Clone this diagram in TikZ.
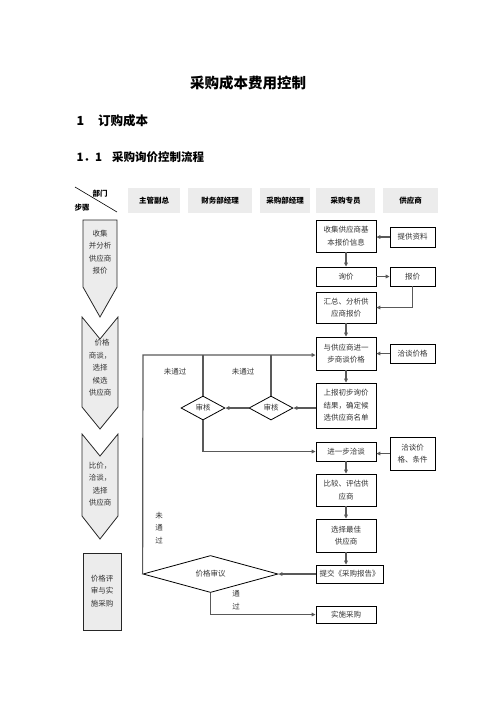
\documentclass[tikz,border=0pt]{standalone}
\usepackage{fontspec}
\usepackage{tikz}
\usetikzlibrary{shapes.geometric, arrows.meta}
\newfontfamily\cjk{Noto Sans CJK SC}

\begin{document}
\begin{tikzpicture}[x=1pt, y=-1pt, >={Triangle[length=4pt, width=3.6pt]},
  every node/.style={font=\cjk\fontsize{7.5}{12.5}\selectfont, text=black!80},
  flowbox/.style={draw, line width=0.8pt, minimum width=60pt, align=center, inner sep=0pt},
  hdr/.style={fill=gray!15, minimum height=25pt, inner sep=0pt, font=\cjk\bfseries\fontsize{7.5}{9}\selectfont, text=black},
  decision/.style={draw, line width=0.8pt, diamond, inner sep=0pt},
  steparrow/.style={draw=black!85, line width=0.8pt, fill=gray!15},
  link/.style={draw=black!65, line width=1.2pt}]
  \useasboundingbox (0,0) rectangle (496,702);
  % headings
  \node[font=\cjk\bfseries\fontsize{14.5}{16}\selectfont, text=black] (title) at (248,83) {采购成本费用控制};
  \node[font=\cjk\bfseries\fontsize{12.5}{14}\selectfont, text=black, anchor=west] (sec) at (73,121) {1\hspace{14pt}订购成本};
  \node[font=\cjk\bfseries\fontsize{11.5}{13}\selectfont, text=black, anchor=west] (subsec) at (73,157) {1．1\hspace{10pt}采购询价控制流程};
  % header row
  \draw[line width=0.6pt] (75,187) -- (117,212);
  \node[font=\cjk\bfseries\fontsize{7.5}{9}\selectfont, text=black] (dept) at (100,194) {部门};
  \node[font=\cjk\bfseries\fontsize{7.5}{9}\selectfont, text=black] (steps) at (82,208) {步骤};
  \node[hdr, minimum width=52pt] (h1) at (154,200.5) {主管副总};
  \node[hdr, minimum width=64pt] (h2) at (220,200.5) {财务部经理};
  \node[hdr, minimum width=50pt] (h3) at (285,200.5) {采购部经理};
  \node[hdr, minimum width=59pt] (h4) at (345.5,200.5) {采购专员};
  \node[hdr, minimum width=55pt] (h5) at (410.5,200.5) {供应商};
  % step column
  \path[steparrow] (83,220) -- (117,220) -- (117,287) -- (100,317) -- (83,287) -- cycle;
  \node[align=center] (s1) at (100,252) {收集\\并分析\\供应商\\报价};
  \path[steparrow] (82,317) -- (100,339) -- (118,317) -- (118,407) -- (100,429) -- (82,407) -- cycle;
  \node[align=center] (s2) at (100,368) {\hspace{4pt}价格\\商谈，\\选择\\候选\\供应商};
  \path[steparrow] (82,434) -- (100,456) -- (118,434) -- (118,516) -- (100,539) -- (82,516) -- cycle;
  \node[align=center] (s3) at (100,484) {比价，\\洽谈，\\选择\\供应商};
  \path[steparrow] (83,553) rectangle (121,630);
  \node[align=center] (s4) at (102,591) {价格评\\审与实\\施采购};
  % purchasing clerk column
  \node[flowbox, minimum height=32pt] (info) at (346,236) {收集供应商基\\本报价信息};
  \node[flowbox, minimum height=19pt] (ask) at (346,276.5) {询价};
  \node[flowbox, minimum height=31pt] (sum) at (346,307.5) {汇总、分析供\\应商报价};
  \node[flowbox, minimum height=33pt] (talk) at (346,353.5) {与供应商进一\\步商谈价格};
  \node[flowbox, minimum height=45pt] (report) at (346,405.5) {上报初步询价\\结果，确定候\\选供应商名单};
  \node[flowbox, minimum height=19pt] (further) at (346,451.5) {进一步洽谈};
  \node[flowbox, minimum height=32pt] (compare) at (346,490) {比较、评估供\\应商};
  \node[flowbox, minimum height=33pt] (choose) at (346,535.5) {选择最佳\\供应商};
  \node[flowbox, minimum height=18pt, minimum width=67pt] (submit) at (349.5,574) {提交《采购报告》};
  \node[flowbox, minimum height=17pt] (execute) at (346,614.5) {实施采购};
  % supplier column
  \node[flowbox, minimum height=20pt, minimum width=45pt] (data) at (412.5,237) {提供资料};
  \node[flowbox, minimum height=19pt, minimum width=45pt] (quote) at (412.5,276.5) {报价};
  \node[flowbox, minimum height=19pt, minimum width=45pt] (negprice) at (412.5,353.5) {洽谈价格};
  \node[flowbox, minimum height=33pt, minimum width=45pt] (negcond) at (412.5,453.5) {洽谈价\\格、条件};
  % reviews
  \node[decision, minimum width=44pt, minimum height=24pt] (rev2) at (271,408) {审核};
  \node[decision, minimum width=44pt, minimum height=24pt] (rev1) at (203,408) {审核};
  \node[decision, minimum width=135pt, minimum height=26pt] (price) at (210.5,574) {价格审议};
  \coordinate (loop) at (143,355);
  % connectors
  \draw[link, ->] (data.west) -- (data.west -| info.east);
  \draw[link, ->] (info) -- (ask);
  \draw[link, ->] (ask) -- (quote);
  \draw[link, ->] (quote.south) |- (sum.east);
  \draw[link, ->] (sum) -- (talk);
  \draw[link, ->] (negprice) -- (talk);
  \draw[link, ->] (talk) -- (report);
  \draw[link, ->] (rev2.east -| report.west) -- (rev2.east);
  \draw[link, ->] (rev2) -- (rev1);
  \draw[link] (rev2.north) -- (rev2.north |- loop);
  \draw[link] (rev1.north) -- (rev1.north |- loop);
  \draw[link, ->] (price.west) -- (loop) -- (loop -| talk.west);
  \draw[link, ->] (rev1.south) |- (further.west);
  \draw[link, ->] (negcond.west) -- (negcond.west -| further.east);
  \draw[link, ->] (further) -- (compare);
  \draw[link, ->] (compare) -- (choose);
  \draw[link, ->] (choose.south) -- (choose.south |- submit.north);
  \draw[link, ->] (submit) -- (price);
  \draw[link, ->] (price.south) |- (execute.west);
  % labels
  \node (fail1) at (175,372) {未通过};
  \node (fail2) at (243,372) {未通过};
  \node[align=center] (fail3) at (159,528) {未\\通\\过};
  \node[align=center] (pass) at (236,600) {通\\过};
\end{tikzpicture}
\end{document}
